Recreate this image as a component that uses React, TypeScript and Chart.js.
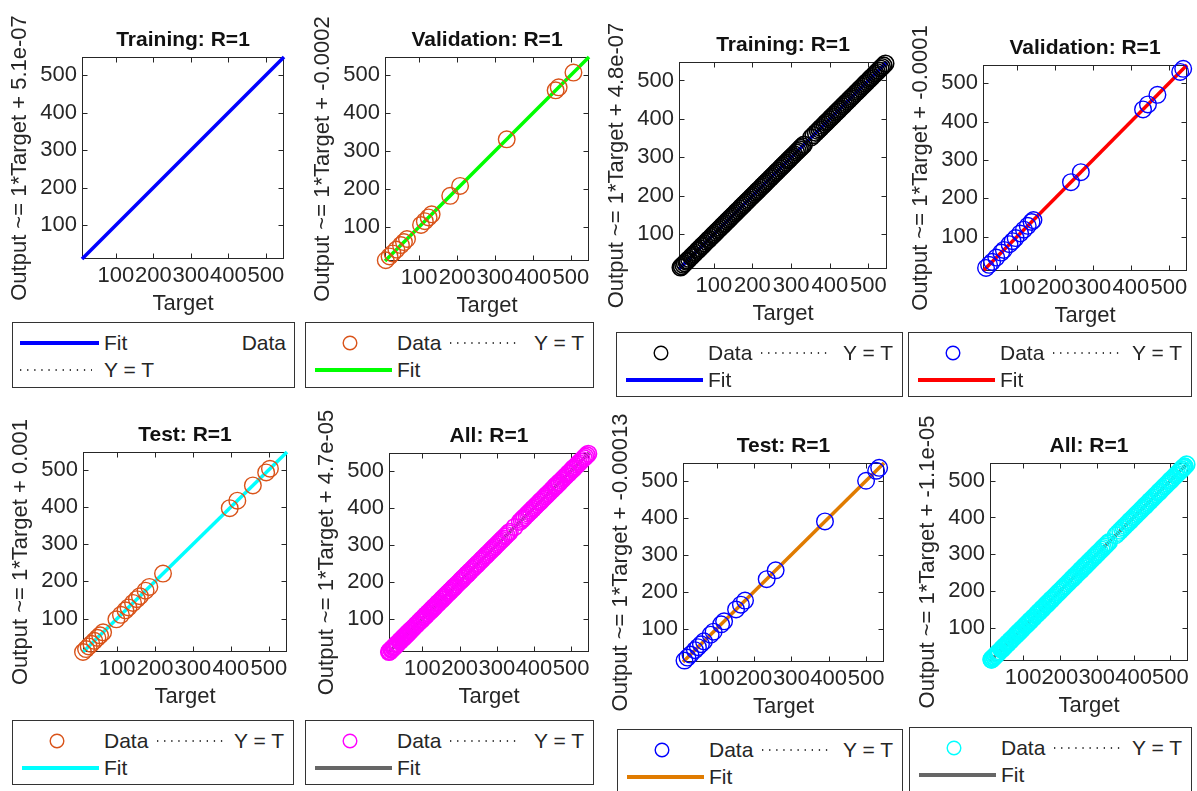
import React, { useEffect, useRef } from "react";
import { Chart, registerables } from "chart.js";

Chart.register(...registerables);

// ---------------- data ----------------
const tickValues = [100, 200, 300, 400, 500];
const axisRange = [10, 548];

const trainTargetsL = [
  12, 16, 19, 23, 27, 31, 34, 38, 43, 46, 50, 55, 58, 62, 66, 71, 74, 78, 83, 86, 91, 95, 99, 103, 107,
  110, 115, 119, 122, 127, 131, 136, 140, 143, 147, 152, 156, 159, 164, 168, 171, 176, 180, 184, 188,
  192, 197, 201, 204, 209, 213, 217, 221, 226, 229, 234, 238, 242, 246, 250, 255, 259, 262, 267, 271,
  275, 280, 284, 288, 292, 296, 301, 305, 309, 313, 317, 322, 326, 335, 348, 362, 367, 371, 375, 380,
  384, 388, 392, 397, 401, 405, 409, 414, 418, 422, 426, 431, 435, 439, 443, 448, 452, 456, 461, 465,
  469, 474, 478, 482, 486, 491, 495, 499, 504, 508, 512, 517, 521, 525, 529, 534, 538, 542, 546,
];
const valTargetsL = [12, 22, 30, 40, 52, 60, 68, 105, 115, 125, 133, 182, 208, 331, 460, 468, 507];
const testTargetsL = [10, 18, 25, 32, 40, 48, 55, 63, 98, 110, 122, 130, 142, 152, 160, 175, 185, 221, 397, 417, 458, 493, 503];
const allTargetsL = [...trainTargetsL, ...valTargetsL, ...testTargetsL];

const trainTargetsR = [
  14, 17, 21, 25, 29, 32, 36, 41, 44, 48, 52, 57, 60, 64, 69, 72, 76, 81, 85, 88, 93, 97, 101, 105, 109,
  113, 117, 121, 125, 129, 134, 138, 142, 146, 150, 154, 158, 162, 167, 171, 175, 179, 183, 187, 191,
  196, 200, 204, 208, 212, 216, 221, 225, 229, 233, 237, 241, 246, 250, 254, 258, 262, 266, 271, 275,
  279, 283, 287, 292, 296, 300, 304, 308, 313, 317, 321, 325, 329, 333, 352, 358, 364, 369, 373, 377,
  382, 386, 390, 394, 399, 403, 407, 411, 416, 420, 424, 428, 433, 437, 441, 445, 450, 454, 458, 462,
  467, 471, 475, 479, 484, 488, 492, 496, 501, 505, 509, 514, 518, 522, 526, 531, 535, 539, 544,
];
const valTargetsR = [18, 26, 34, 45, 58, 65, 80, 88, 96, 108, 118, 128, 138, 143, 242, 268, 432, 445, 470, 530, 538];
const testTargetsR = [14, 22, 30, 42, 50, 58, 66, 84, 92, 112, 120, 152, 165, 176, 234, 258, 390, 500, 527, 535];
const allTargetsR = [...trainTargetsR, ...valTargetsR, ...testTargetsR];

const panelTitles = [
  "Training: R=1", "Validation: R=1", "Training: R=1", "Validation: R=1",
  "Test: R=1", "All: R=1", "Test: R=1", "All: R=1",
];
const fitIntercepts = ["5.1e-07", "-0.0002", "4.8e-07", "-0.0001", "0.001", "4.7e-05", "-0.00013", "-1.1e-05"];
const panelTargets = [trainTargetsL, valTargetsL, trainTargetsR, valTargetsR, testTargetsL, allTargetsL, testTargetsR, allTargetsR];
const dataColors = [null, "#d95319", "#000000", "#0000ff", "#d95319", "#ff00ff", "#0000ff", "#00ffff"];
const fitColors = ["#0000ff", "#00ff00", "#0000ff", "#ff0000", "#00ffff", "#666666", "#e07b00", "#666666"];

// ---------------- layout / style (page pixels) ----------------
const markerWidths = [1.4, 1.4, 1.6, 1.4, 1.4, 1.6, 1.4, 1.6];
const boxes = [
  { l: 82, t: 57, r: 284, b: 259 },
  { l: 385, t: 57, r: 589, b: 261 },
  { l: 679, t: 62, r: 887, b: 269 },
  { l: 983, t: 65, r: 1187, b: 271 },
  { l: 83, t: 452, r: 287, b: 652 },
  { l: 389, t: 453, r: 589, b: 652 },
  { l: 683, t: 463, r: 884, b: 662 },
  { l: 990, t: 463, r: 1188, b: 661 },
];
const legendBoxes = [
  { l: 12, t: 322, r: 295, b: 388 },
  { l: 305, t: 322, r: 594, b: 388 },
  { l: 616, t: 332, r: 903, b: 397 },
  { l: 908, t: 332, r: 1192, b: 397 },
  { l: 12, t: 720, r: 294, b: 785 },
  { l: 305, t: 720, r: 594, b: 785 },
  { l: 617, t: 729, r: 903, b: 795 },
  { l: 909, t: 727, r: 1192, b: 793 },
];

const FONT = '"Liberation Sans", Arial, Helvetica, sans-serif';
const TEXT = "#262626";
const LEFT_W = 82;
const TOP_H = 57;
const BOTTOM_H = 62;
const RIGHT_PAD = 14;
const FS = 22;

const framePlugin = {
  id: "frame",
  beforeDatasetsDraw(chart: any) {
    const { ctx, chartArea } = chart;
    const xs = chart.scales.x;
    const ys = chart.scales.y;
    const l = Math.round(chartArea.left) + 0.5;
    const t = Math.round(chartArea.top) + 0.5;
    const r = Math.round(chartArea.right) - 0.5;
    const b = Math.round(chartArea.bottom) - 0.5;
    ctx.save();
    ctx.strokeStyle = TEXT;
    ctx.lineWidth = 1;
    ctx.strokeRect(l, t, r - l, b - t);
    ctx.beginPath();
    for (const v of tickValues) {
      const px = Math.round(xs.getPixelForValue(v)) + 0.5;
      ctx.moveTo(px, b); ctx.lineTo(px, b - 5);
      ctx.moveTo(px, t); ctx.lineTo(px, t + 5);
      const py = Math.round(ys.getPixelForValue(v)) + 0.5;
      ctx.moveTo(l, py); ctx.lineTo(l + 5, py);
      ctx.moveTo(r, py); ctx.lineTo(r - 5, py);
    }
    ctx.stroke();
    ctx.restore();
  },
};

function makeConfig(i: number) {
  const targets = panelTargets[i];
  const pts = targets.map((t) => ({ x: t, y: t }));
  const line = [
    { x: axisRange[0], y: axisRange[0] },
    { x: axisRange[1], y: axisRange[1] },
  ];
  const dc = dataColors[i];
  const tickFont = { family: FONT, size: FS };
  return {
    type: "scatter",
    data: {
      datasets: [
        {
          label: "Data",
          data: pts,
          showLine: false,
          borderColor: dc || "rgba(0,0,0,0)",
          backgroundColor: "rgba(0,0,0,0)",
          pointBackgroundColor: "rgba(0,0,0,0)",
          pointBorderColor: dc || "rgba(0,0,0,0)",
          pointRadius: dc ? 8.3 : 0,
          pointBorderWidth: markerWidths[i],
          pointHoverRadius: 0,
          clip: false,
        },
        {
          label: "Fit",
          data: line,
          showLine: true,
          borderColor: fitColors[i],
          borderWidth: 3.5,
          pointRadius: 0,
          clip: false,
        },
        {
          label: "Y = T",
          data: line,
          showLine: true,
          borderColor: "#000000",
          borderWidth: 1,
          borderDash: [1, 3],
          pointRadius: 0,
        },
      ],
    },
    options: {
      animation: false,
      responsive: false,
      maintainAspectRatio: false,
      devicePixelRatio: 1,
      events: [],
      layout: { padding: { left: 0, right: RIGHT_PAD, top: 0, bottom: 0 } },
      plugins: {
        legend: { display: false },
        tooltip: { enabled: false },
        title: {
          display: true,
          text: panelTitles[i],
          fullSize: false,
          color: "#111111",
          font: { family: FONT, size: 21, weight: "bold", lineHeight: 1.2 },
          padding: { top: 27.4, bottom: TOP_H - 27.4 - 25.2 },
        },
      },
      scales: {
        x: {
          type: "linear",
          position: "bottom",
          min: axisRange[0],
          max: axisRange[1],
          grid: { display: false, drawTicks: false },
          border: { display: false },
          ticks: { font: tickFont, color: TEXT, padding: 4, autoSkip: false, maxRotation: 0, minRotation: 0 },
          title: { display: true, text: "Target", color: TEXT, font: { family: FONT, size: FS, lineHeight: 1.2 }, padding: { top: 0, bottom: 3.5 } },
          afterBuildTicks(s: any) {
            s.ticks = tickValues.map((v) => ({ value: v }));
          },
          afterFit(s: any) {
            s.height = BOTTOM_H;
            s.paddingLeft = 0;
            s.paddingRight = 0;
          },
        },
        y: {
          type: "linear",
          position: "left",
          min: axisRange[0],
          max: axisRange[1],
          grid: { display: false, drawTicks: false },
          border: { display: false },
          ticks: { font: tickFont, color: TEXT, padding: 5, autoSkip: false },
          title: {
            display: true,
            text: "Output ~= 1*Target + " + fitIntercepts[i],
            color: TEXT,
            font: { family: FONT, size: FS, lineHeight: 1.2 },
            padding: { top: 6.8, bottom: 0 },
          },
          afterBuildTicks(s: any) {
            s.ticks = tickValues.map((v) => ({ value: v }));
          },
          afterFit(s: any) {
            s.width = LEFT_W;
            s.paddingTop = 0;
            s.paddingBottom = 0;
          },
        },
      },
    },
    plugins: [framePlugin],
  };
}

function Panel({ i }: { i: number }) {
  const ref = useRef<HTMLCanvasElement>(null);
  const bx = boxes[i];
  const W = bx.r - bx.l + LEFT_W + RIGHT_PAD;
  const H = bx.b - bx.t + TOP_H + BOTTOM_H;
  useEffect(() => {
    const chart = new Chart(ref.current as HTMLCanvasElement, makeConfig(i) as any);
    return () => chart.destroy();
  }, [i]);
  return (
    <canvas
      ref={ref}
      width={W}
      height={H}
      style={{ position: "absolute", left: bx.l - LEFT_W, top: bx.t - TOP_H, width: W, height: H }}
    />
  );
}

function Txt({ label, style }: { label: string; style: any }) {
  return (
    <div
      style={{
        position: "absolute",
        font: `21px ${FONT}`,
        color: TEXT,
        lineHeight: "24px",
        whiteSpace: "nowrap",
        ...style,
      }}
    >
      {label}
    </div>
  );
}

function Legend({ i }: { i: number }) {
  const lb = legendBoxes[i];
  const w = lb.r - lb.l;
  const h = lb.b - lb.t;
  const dc = dataColors[i];
  const fc = fitColors[i];
  const r1 = 21;
  const r2 = 48;
  return (
    <div
      style={{
        position: "absolute",
        left: lb.l,
        top: lb.t,
        width: w,
        height: h,
        border: "1px solid #333",
        boxSizing: "border-box",
        background: "#fff",
      }}
    >
      {dc ? (
        <>
          <svg width={w} height={h} style={{ position: "absolute", left: -1, top: -1 }}>
            <circle cx={45} cy={r1} r={6.8} fill="none" stroke={dc} strokeWidth={1.4} />
            <line x1={145} x2={215} y1={r1} y2={r1} stroke="#000" strokeWidth={1.3} strokeDasharray="1.3 5.8" />
            <line x1={10} x2={87} y1={r2} y2={r2} stroke={fc} strokeWidth={4} />
          </svg>
          <Txt label="Data" style={{ left: 91, top: r1 - 13 }} />
          <Txt label="Y = T" style={{ right: 9, top: r1 - 13 }} />
          <Txt label="Fit" style={{ left: 91, top: r2 - 13 }} />
        </>
      ) : (
        <>
          <svg width={w} height={h} style={{ position: "absolute", left: -1, top: -1 }}>
            <line x1={8} x2={87} y1={r1} y2={r1} stroke={fc} strokeWidth={4} />
            <line x1={8} x2={80} y1={r2} y2={r2} stroke="#000" strokeWidth={1.3} strokeDasharray="1.3 5.8" />
          </svg>
          <Txt label="Fit" style={{ left: 91, top: r1 - 13 }} />
          <Txt label="Data" style={{ right: 8, top: r1 - 13 }} />
          <Txt label="Y = T" style={{ left: 91, top: r2 - 13 }} />
        </>
      )}
    </div>
  );
}

export default function App() {
  const idx = [0, 1, 2, 3, 4, 5, 6, 7];
  return (
    <div
      style={{
        position: "absolute",
        left: 0,
        top: 0,
        width: 1197,
        height: 791,
        background: "#ffffff",
        overflow: "hidden",
      }}
    >
      {idx.map((i) => (
        <Panel key={"p" + i} i={i} />
      ))}
      {idx.map((i) => (
        <Legend key={"l" + i} i={i} />
      ))}
    </div>
  );
}
